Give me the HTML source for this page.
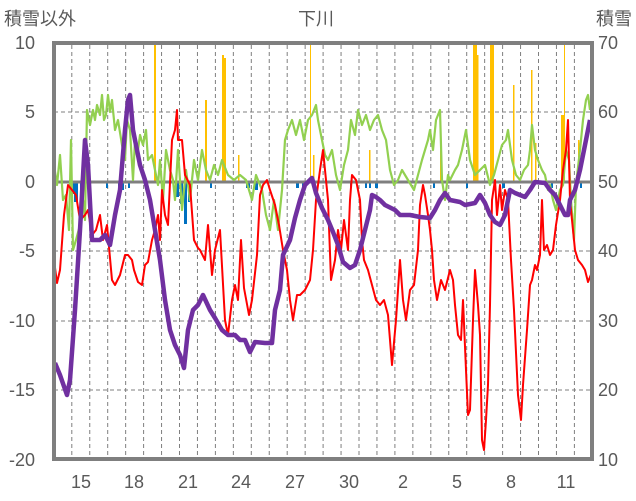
<!DOCTYPE html>
<html><head><meta charset="utf-8"><style>
body{margin:0;background:#fff;}
svg{display:block;font-family:"Liberation Sans","Noto Sans CJK JP",sans-serif;}
</style></head><body>
<svg width="636" height="501" viewBox="0 0 636 501">
<rect width="636" height="501" fill="#fff"/>
<g stroke="#7f7f7f" stroke-width="1" stroke-dasharray="4,3">
<line x1="54" y1="112" x2="592" y2="112"/>
<line x1="54" y1="251" x2="592" y2="251"/>
<line x1="54" y1="321" x2="592" y2="321"/>
<line x1="54" y1="390" x2="592" y2="390"/>
<line x1="71.8" y1="45" x2="71.8" y2="457"/>
<line x1="89.75" y1="45" x2="89.75" y2="457"/>
<line x1="107.7" y1="45" x2="107.7" y2="457"/>
<line x1="125.65" y1="45" x2="125.65" y2="457"/>
<line x1="143.6" y1="45" x2="143.6" y2="457"/>
<line x1="161.55" y1="45" x2="161.55" y2="457"/>
<line x1="179.5" y1="45" x2="179.5" y2="457"/>
<line x1="197.45" y1="45" x2="197.45" y2="457"/>
<line x1="215.4" y1="45" x2="215.4" y2="457"/>
<line x1="233.35" y1="45" x2="233.35" y2="457"/>
<line x1="251.3" y1="45" x2="251.3" y2="457"/>
<line x1="269.25" y1="45" x2="269.25" y2="457"/>
<line x1="287.2" y1="45" x2="287.2" y2="457"/>
<line x1="305.15" y1="45" x2="305.15" y2="457"/>
<line x1="323.1" y1="45" x2="323.1" y2="457"/>
<line x1="341.05" y1="45" x2="341.05" y2="457"/>
<line x1="359" y1="45" x2="359" y2="457"/>
<line x1="376.95" y1="45" x2="376.95" y2="457"/>
<line x1="394.9" y1="45" x2="394.9" y2="457"/>
<line x1="412.85" y1="45" x2="412.85" y2="457"/>
<line x1="430.8" y1="45" x2="430.8" y2="457"/>
<line x1="448.75" y1="45" x2="448.75" y2="457"/>
<line x1="466.7" y1="45" x2="466.7" y2="457"/>
<line x1="484.65" y1="45" x2="484.65" y2="457"/>
<line x1="502.6" y1="45" x2="502.6" y2="457"/>
<line x1="520.55" y1="45" x2="520.55" y2="457"/>
<line x1="538.5" y1="45" x2="538.5" y2="457"/>
<line x1="556.45" y1="45" x2="556.45" y2="457"/>
<line x1="574.4" y1="45" x2="574.4" y2="457"/>
</g>
<g fill="#ffc000">
<rect x="154" y="43" width="2" height="139"/>
<rect x="205" y="100" width="2" height="82"/>
<rect x="222" y="55" width="2" height="127"/>
<rect x="224" y="58" width="2" height="124"/>
<rect x="238" y="155" width="1.5" height="27"/>
<rect x="310" y="43" width="1" height="139"/>
<rect x="313" y="155" width="1.5" height="27"/>
<rect x="369" y="150" width="1.5" height="32"/>
<rect x="440" y="150" width="1.5" height="32"/>
<rect x="473" y="43" width="4" height="139"/>
<rect x="477" y="55" width="1.5" height="127"/>
<rect x="490" y="43" width="4" height="139"/>
<rect x="513" y="85" width="1.5" height="97"/>
<rect x="531" y="70" width="1.5" height="112"/>
<rect x="535" y="143" width="1.5" height="39"/>
<rect x="561" y="115" width="4" height="67"/>
<rect x="578" y="140" width="1.5" height="42"/>
<rect x="564" y="43" width="1" height="139"/>
</g>
<g fill="#0070c0">
<rect x="70" y="182" width="4" height="12"/><rect x="74" y="182" width="4" height="20"/>
<rect x="80" y="182" width="2" height="8"/><rect x="106" y="182" width="2" height="6"/>
<rect x="118" y="182" width="6" height="8"/><rect x="128" y="182" width="2" height="6"/>
<rect x="175" y="182" width="4" height="15"/><rect x="180" y="182" width="3" height="22"/>
<rect x="184" y="182" width="3" height="42"/><rect x="188" y="182" width="2" height="20"/>
<rect x="210" y="182" width="2" height="6"/><rect x="246" y="182" width="4" height="6"/>
<rect x="255" y="182" width="3" height="8"/><rect x="296" y="182" width="3" height="6"/>
<rect x="302" y="182" width="4" height="6"/><rect x="312" y="182" width="2" height="5"/>
<rect x="350" y="182" width="2" height="6"/><rect x="365" y="182" width="2" height="6"/>
<rect x="369" y="182" width="2" height="6"/><rect x="375" y="182" width="3" height="6"/>
<rect x="433" y="182" width="2" height="6"/><rect x="466" y="182" width="2" height="6"/>
<rect x="502" y="182" width="3" height="6"/><rect x="551" y="182" width="2" height="6"/>
<rect x="580" y="182" width="2" height="6"/>
</g>
<line x1="54" y1="182" x2="592" y2="182" stroke="#7f7f7f" stroke-width="3"/>
<polyline fill="none" stroke="#92d050" stroke-width="2.2" stroke-linejoin="round" points="54,165 57,185 60,155 63,200 66,195 69,230 71,140 73,250 76,240 80,225 83,200 85,220 87,110 90,125 93,110 95,120 97,105 100,115 102,95 104,120 106,115 108,95 110,112 112,100 115,130 118,120 122,145 125,160 127,120 130,130 133,180 135,140 138,150 140,135 143,145 146,130 148,160 152,155 155,170 158,185 160,160 163,200 166,150 170,170 173,180 175,200 178,150 182,210 186,170 190,200 194,160 198,180 202,150 206,170 210,180 214,165 218,175 222,160 228,175 234,180 240,175 246,180 252,200 256,175 262,190 266,215 270,230 274,200 278,230 282,190 285,140 288,130 292,120 296,135 300,120 304,140 308,120 312,115 316,105 318,120 322,140 325,155 328,160 332,150 336,175 340,190 344,165 348,150 351,120 355,135 358,110 362,125 366,115 370,130 374,120 378,115 382,130 386,140 390,170 394,185 398,180 402,170 408,180 414,190 418,175 422,160 425,150 428,140 430,130 433,150 436,120 440,110 442,180 445,200 448,175 450,180 455,170 458,165 462,150 466,130 470,160 475,175 480,170 485,165 490,185 494,175 498,160 502,145 506,140 508,130 512,160 516,175 520,180 524,170 528,165 530,150 532,125 535,150 538,160 542,170 545,175 548,190 550,185 553,200 556,210 560,190 563,185 566,150 569,160 571,200 574,240 576,185 580,150 583,120 586,100 588,95 590,110"/>
<polyline fill="none" stroke="#ff0000" stroke-width="2" stroke-linejoin="round" points="54,260 57,283 60,270 64,215 68,185 72,190 76,195 80,220 85,215 88,210 92,235 96,230 100,215 103,240 107,225 112,280 115,285 120,275 125,255 128,255 132,260 134,270 138,282 142,285 145,265 148,262 152,240 155,230 158,215 160,240 162,190 165,215 168,225 172,140 175,130 177,110 178,140 182,140 185,175 190,185 194,240 198,248 200,250 205,260 208,225 212,275 215,250 220,230 225,320 228,335 232,300 235,285 238,300 241,240 244,288 249,315 252,300 257,255 260,195 263,185 267,180 270,190 275,205 279,225 283,250 287,270 290,300 293,320 297,295 300,295 305,290 310,280 313,250 316,200 320,170 323,150 328,200 331,280 335,260 338,230 341,250 344,220 348,250 350,200 352,175 356,180 360,200 362,240 364,260 368,270 372,285 376,300 380,305 384,300 388,315 392,365 396,320 400,260 403,300 406,320 410,290 414,285 418,250 420,205 423,185 425,195 428,215 430,230 432,250 434,280 437,300 441,280 445,290 450,270 453,280 455,305 458,335 461,340 463,300 466,370 468,415 470,410 473,320 475,270 478,305 480,335 482,440 484,450 486,420 488,385 490,305 492,200 495,180 497,215 500,185 502,210 505,190 508,200 511,260 514,310 518,395 521,420 523,385 527,330 530,285 532,280 535,265 537,270 540,255 542,200 544,250 547,245 550,255 553,250 556,225 560,200 563,170 566,150 568,120 570,200 575,250 578,260 582,265 585,270 588,282 592,272"/>
<polyline fill="none" stroke="#7030a0" stroke-width="4.5" stroke-linejoin="round" points="55,363 60,375 67,395 70,380 75,310 80,230 85,140 88,165 92,240 100,240 105,235 110,245 115,215 120,190 125,130 128,100 130,95 133,130 140,165 145,180 150,200 155,230 160,260 165,300 170,330 175,345 180,355 184,368 188,330 193,310 198,305 203,295 210,310 215,318 222,330 228,335 235,335 240,340 245,340 250,352 255,342 265,343 272,343 275,310 280,290 283,255 290,240 295,218 300,200 305,185 312,178 316,193 322,208 328,220 333,232 338,245 343,262 350,268 355,265 360,250 365,230 370,210 372,195 376,197 380,200 385,205 395,210 400,215 410,215 420,217 430,218 435,210 440,200 445,193 450,200 460,202 465,205 475,203 480,195 485,203 490,215 495,222 500,225 505,215 510,190 515,193 525,197 530,190 535,182 545,183 550,190 555,195 560,205 565,215 568,215 570,200 575,190 580,170 585,145 590,120"/>
<rect x="54" y="43" width="538" height="416" fill="none" stroke="#7f7f7f" stroke-width="4"/>
<g fill="#595959" font-size="18" text-anchor="end">
<text x="35" y="49">10</text><text x="35" y="118">5</text><text x="35" y="188">0</text>
<text x="35" y="257">-5</text><text x="35" y="327">-10</text><text x="35" y="396">-15</text><text x="35" y="466">-20</text>
</g>
<g fill="#595959" font-size="18" text-anchor="start">
<text x="598" y="49">70</text><text x="598" y="118">60</text><text x="598" y="188">50</text>
<text x="598" y="257">40</text><text x="598" y="327">30</text><text x="598" y="396">20</text><text x="598" y="466">10</text>
</g>
<g fill="#595959" font-size="18" text-anchor="middle">
<text x="81" y="488">15</text><text x="134" y="488">18</text><text x="188" y="488">21</text>
<text x="241" y="488">24</text><text x="295" y="488">27</text><text x="349" y="488">30</text>
<text x="403" y="488">2</text><text x="457" y="488">5</text><text x="511" y="488">8</text><text x="566" y="488">11</text>
</g>
<g fill="#595959" font-size="18">
<text x="4" y="25">積雪以外</text>
<text x="316" y="25" text-anchor="middle">下川</text>
<text x="632" y="25" text-anchor="end">積雪</text>
</g>
</svg>
</body></html>
